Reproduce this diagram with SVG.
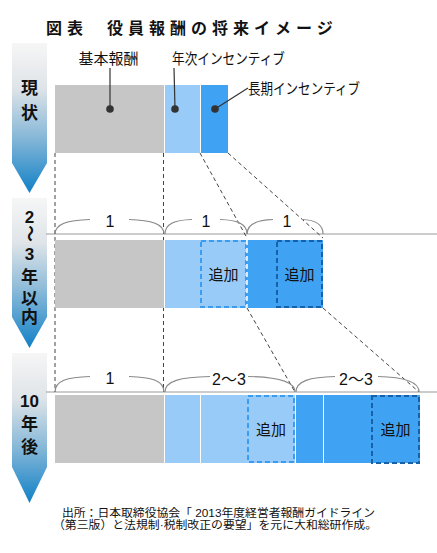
<svg xmlns="http://www.w3.org/2000/svg" width="437" height="553" viewBox="0 0 437 553">
<defs>
<linearGradient id="ag" x1="0" y1="0" x2="0" y2="1">
<stop offset="0" stop-color="#f6f6f6"/>
<stop offset="0.3" stop-color="#dfe4e8"/>
<stop offset="0.6" stop-color="#8fbcd9"/>
<stop offset="1" stop-color="#1180c6"/>
</linearGradient>
<style>
.t{font-family:"Liberation Sans","Noto Sans CJK JP",sans-serif;fill:#111}
.ttl{font-size:16px;font-weight:bold;letter-spacing:5px}
.ar{font-size:17px;font-weight:bold;text-anchor:middle}
.lb{font-size:15px}
.ad{font-size:15px;text-anchor:middle}
.br{font-size:16px;text-anchor:middle}
.ft{font-size:11.5px}
.gray{fill:#c6c6c6}
.lt{fill:#98cbf7}
.bl{fill:#40a2f2}
.brace{fill:none;stroke:#8a8a8a;stroke-width:1.2}
.hl{stroke:#999;stroke-width:1.2}
.dsh{stroke:#444;stroke-width:1;stroke-dasharray:4 3;fill:none}
.bx1{fill:#98cbf7;stroke:#3a9cf0;stroke-width:2;stroke-dasharray:5 3}
.bx2{fill:#40a2f2;stroke:#1562aa;stroke-width:2;stroke-dasharray:5 3}
.ld{stroke:#333;stroke-width:1.2;fill:none}
.dot{fill:#333}
</style>
</defs>
<rect width="437" height="553" fill="#fff"/>

<g id="title">
<text class="t ttl" x="46" y="34">図表</text>
<text class="t ttl" x="107" y="34">役員報酬の将来イメージ</text>
</g>

<g id="stage-arrows">
<g id="arrow-now">
<path d="M12,43 H47 V163 L29.5,193 L12,163 Z" fill="url(#ag)"/>
<text class="t ar" x="29.5" y="94">現</text>
<text class="t ar" x="29.5" y="119">状</text>
</g>
<g id="arrow-2-3">
<path d="M12,198 H47 V317 L29.5,348 L12,317 Z" fill="url(#ag)"/>
<text class="t ar" x="29.5" y="223">2</text>
<text class="t ar" x="29.5" y="239" transform="rotate(90 29.5 233.5)">～</text>
<text class="t ar" x="29.5" y="260">3</text>
<text class="t ar" x="29.5" y="283">年</text>
<text class="t ar" x="29.5" y="304">以</text>
<text class="t ar" x="29.5" y="323">内</text>
</g>
<g id="arrow-10">
<path d="M12,353 H47 V467 L29.5,503 L12,467 Z" fill="url(#ag)"/>
<text class="t ar" x="29.5" y="407">10</text>
<text class="t ar" x="29.5" y="430">年</text>
<text class="t ar" x="29.5" y="453">後</text>
</g>
</g>

<g id="guides">
<line class="hl" x1="46" y1="234" x2="437" y2="234"/>
<line class="hl" x1="46" y1="392" x2="437" y2="392"/>
<line class="dsh" x1="55" y1="153" x2="55" y2="392"/>
<line class="dsh" x1="163.5" y1="153" x2="163.5" y2="392"/>
<line class="dsh" x1="200" y1="153" x2="247" y2="238"/>
<line class="dsh" x1="228" y1="153" x2="323" y2="238"/>
<line class="dsh" x1="247" y1="308" x2="295" y2="392"/>
<line class="dsh" x1="323" y1="308" x2="419" y2="392"/>
</g>

<g id="row-now">
<rect class="gray" x="55" y="85" width="109" height="68"/>
<rect class="lt" x="165" y="85" width="35" height="68"/>
<rect class="bl" x="201" y="85" width="27" height="68"/>
</g>

<g id="connectors">
<line class="ld" x1="110" y1="109" x2="110" y2="68"/>
<line class="ld" x1="175" y1="109" x2="174" y2="68"/>
<line class="ld" x1="215" y1="109" x2="248" y2="88"/>
<circle class="dot" cx="110" cy="109" r="3.8"/>
<circle class="dot" cx="175" cy="109" r="3.8"/>
<circle class="dot" cx="215" cy="109" r="3.8"/>
</g>

<g id="labels">
<text class="t lb" x="108.5" y="64" text-anchor="middle">基本報酬</text>
<text class="t lb" x="172" y="64" textLength="113" lengthAdjust="spacingAndGlyphs">年次インセンティブ</text>
<text class="t lb" x="248" y="94" textLength="112" lengthAdjust="spacingAndGlyphs">長期インセンティブ</text>
</g>

<g id="row-2-3">
<path class="brace" d="M55,234 C55,224 67,220 90,219.5 M129,219.5 C152,220 164,224 164,234"/>
<path class="brace" d="M165,234 C165,224 174,220 192,219.5 M220,219.5 C238,220 247,224 247,234"/>
<path class="brace" d="M247,234 C247,224 256,220 273,219.5 M302,219.5 C316,220 323,224 323,234"/>
<text class="t br" x="110" y="227">1</text>
<text class="t br" x="206" y="227">1</text>
<text class="t br" x="287" y="227">1</text>
<rect class="gray" x="55" y="240" width="109" height="68"/>
<rect class="lt" x="165" y="240" width="82" height="68"/>
<rect class="bl" x="247" y="240" width="76" height="68"/>
<rect class="bx1" x="201" y="241" width="45" height="66"/>
<line x1="247" y1="240" x2="247" y2="308" stroke="#fff" stroke-width="1.5" stroke-dasharray="5 3"/>
<rect class="bx2" x="277" y="241" width="45" height="66"/>
<text class="t ad" x="223.5" y="280">追加</text>
<text class="t ad" x="299.5" y="280">追加</text>
</g>

<g id="row-10">
<path class="brace" d="M55,392 C55,381 67,377 90,376.5 M129,376.5 C152,377 164,381 164,392"/>
<path class="brace" d="M165,392 C165,381 180,377 210,376.5 M248,376.5 C275,377 295,381 295,392"/>
<path class="brace" d="M296,392 C296,381 310,377 335,376.5 M378,376.5 C402,377 419,381 419,392"/>
<text class="t br" x="110" y="384">1</text>
<text class="t br" x="229" y="385">2～3</text>
<text class="t br" x="356" y="385">2～3</text>
<rect class="gray" x="55" y="395" width="109" height="68"/>
<rect class="lt" x="165" y="395" width="35" height="68"/>
<rect class="lt" x="201" y="395" width="94" height="68"/>
<rect class="bl" x="296" y="395" width="27" height="68"/>
<rect class="bl" x="324" y="395" width="96" height="68"/>
<rect class="bx1" x="248" y="396" width="46" height="66"/>
<rect class="bx2" x="372" y="396" width="47" height="67"/>
<text class="t ad" x="271" y="435">追加</text>
<text class="t ad" x="395.5" y="435">追加</text>
</g>

<g id="footer">
<text class="t ft" x="62" y="517" textLength="313" lengthAdjust="spacingAndGlyphs">出所：日本取締役協会「 2013年度経営者報酬ガイドライン</text>
<text class="t ft" x="53" y="529" textLength="324" lengthAdjust="spacingAndGlyphs">（第三版）と法規制·税制改正の要望」を元に大和総研作成。</text>
</g>
</svg>
